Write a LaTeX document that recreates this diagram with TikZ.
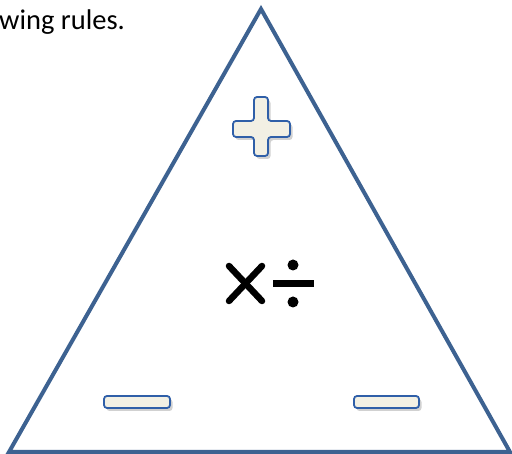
\documentclass[tikz,border=0pt]{standalone}
\usepackage{fontspec}
\setmainfont{Carlito}
\usetikzlibrary{shadows}
\definecolor{triblue}{HTML}{3D6291}
\definecolor{symblue}{HTML}{2F5FA8}
\definecolor{symfill}{HTML}{F2F0E4}
\tikzset{
  tri/.style={draw=triblue, line width=4pt, line join=miter},
  sym/.style={draw=symblue, fill=symfill, line width=1.8pt, rounded corners=3pt,
    drop shadow={shadow xshift=2.5pt, shadow yshift=-3pt, opacity=0.3, fill=black!60}},
  ink/.style={line width=6.5pt, line cap=round, draw=black},
}
\begin{document}
\begin{tikzpicture}[x=1pt, y=-1pt]
\useasboundingbox (0,0) rectangle (512,454);
\begin{scope}
\clip (0,0) rectangle (512,454);
\node[anchor=base west, inner sep=0pt, font=\fontsize{28.5}{30}\selectfont] (txt) at (-1,30) {wing rules.};
\coordinate (A) at (261,9);
\coordinate (B) at (510,452);
\coordinate (C) at (9,452);
\draw[tri] (A) -- (B) -- (C) -- cycle;
% plus
\path[sym] (254,97) -- (268,97) -- (268,121) -- (290,121) -- (290,137) -- (268,137) -- (268,156) -- (254,156) -- (254,137) -- (233,137) -- (233,121) -- (254,121) -- cycle;
% minus bars
\path[sym] (104,396) rectangle (170,408);
\path[sym] (354,396) rectangle (419,408);
% times
\coordinate (t1) at (229,266);
\coordinate (t2) at (262,301);
\coordinate (t3) at (262,266);
\coordinate (t4) at (229,301);
\draw[ink] (t1) -- (t2);
\draw[ink] (t3) -- (t4);
% divide
\coordinate (d1) at (273,283.5);
\coordinate (d2) at (314,283.5);
\draw[ink, line cap=butt] (d1) -- (d2);
\fill (293,265) circle (5.5);
\fill (293,302) circle (5.5);
\end{scope}
\end{tikzpicture}
\end{document}
